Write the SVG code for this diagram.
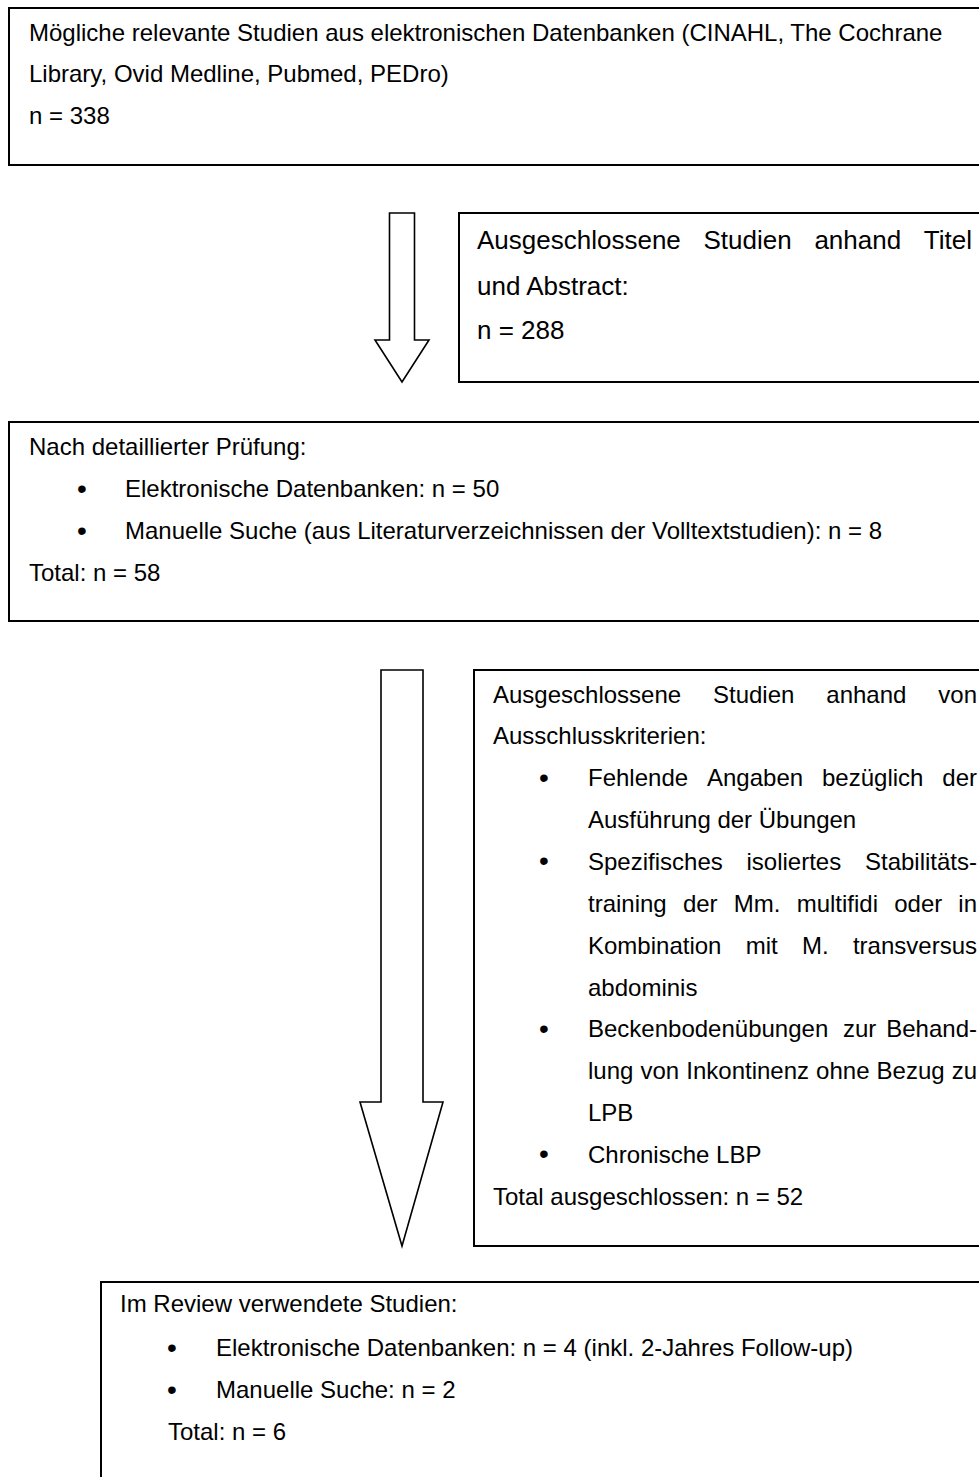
<svg xmlns="http://www.w3.org/2000/svg" width="979" height="1477" viewBox="0 0 979 1477">
<style>
.box{fill:#fff;stroke:#000;stroke-width:2}
.arrow{fill:#fff;stroke:#000;stroke-width:1.6;stroke-linejoin:miter}
text{font-family:"Liberation Sans",Arial,sans-serif;font-size:24px;fill:#000}
.big{font-size:26px}
.end{text-anchor:end}
.bul{text-anchor:middle;font-size:28px}
</style>
<rect x="0" y="0" width="979" height="1477" fill="#fff"/>
<g id="connectors">
<polygon class="arrow" points="389.5,213 414.5,213 414.5,340 429,340 402,382 375,340 389.5,340"/>
<polygon class="arrow" points="381,670 423,670 423,1102 443,1102 402,1246 360,1102 381,1102"/>
</g>
<g id="n1">
<rect class="box" x="9" y="8" width="990" height="157"/>
<text x="29" y="40.5">Mögliche relevante Studien aus elektronischen Datenbanken (CINAHL, The Cochrane</text>
<text x="29" y="82">Library, Ovid Medline, Pubmed, PEDro)</text>
<text x="29" y="123.5">n = 338</text>
</g>
<g id="n2">
<rect class="box" x="459" y="213" width="540" height="169"/>
<text class="big" y="249"><tspan x="477">Ausgeschlossene</tspan><tspan x="703.5">Studien</tspan><tspan x="814.4">anhand</tspan><tspan x="923.8">Titel</tspan></text>
<text class="big" x="477" y="294.5">und Abstract:</text>
<text class="big" x="477" y="339">n = 288</text>
</g>
<g id="n3">
<rect class="box" x="9" y="422" width="990" height="199"/>
<text x="29" y="454.5">Nach detaillierter Prüfung:</text>
<text class="bul" x="82" y="497.5">•</text>
<text x="125" y="497">Elektronische Datenbanken: n = 50</text>
<text class="bul" x="82" y="539.5">•</text>
<text x="125" y="539">Manuelle Suche (aus Literaturverzeichnissen der Volltextstudien): n = 8</text>
<text x="29" y="581">Total: n = 58</text>
</g>
<g id="n4">
<rect class="box" x="474" y="670" width="525" height="576"/>
<text y="702.5"><tspan x="493">Ausgeschlossene</tspan><tspan x="713">Studien</tspan><tspan x="826.3">anhand</tspan></text>
<text class="end" x="977" y="702.5">von</text>
<text x="493" y="744.4">Ausschlusskriterien:</text>
<text class="bul" x="544" y="786.7">•</text>
<text y="786.2"><tspan x="588">Fehlende</tspan><tspan x="707">Angaben</tspan><tspan x="822">bezüglich</tspan></text>
<text class="end" x="977" y="786.2">der</text>
<text x="588" y="828.1">Ausführung der Übungen</text>
<text class="bul" x="544" y="870.4">•</text>
<text y="869.9"><tspan x="588">Spezifisches</tspan><tspan x="746.5">isoliertes</tspan></text>
<text class="end" x="977" y="869.9">Stabilitäts-</text>
<text y="911.8"><tspan x="588">training</tspan><tspan x="682.9">der</tspan><tspan x="733.8">Mm.</tspan><tspan x="796.7">multifidi</tspan><tspan x="894.2">oder</tspan></text>
<text class="end" x="977" y="911.8">in</text>
<text y="953.6"><tspan x="588">Kombination</tspan><tspan x="745.7">mit</tspan><tspan x="802">M.</tspan></text>
<text class="end" x="977" y="953.6">transversus</text>
<text x="588" y="995.5">abdominis</text>
<text class="bul" x="544" y="1037.8">•</text>
<text y="1037.3"><tspan x="588">Beckenbodenübungen</tspan><tspan x="843">zur</tspan></text>
<text class="end" x="977" y="1037.3">Behand-</text>
<text y="1079.2"><tspan x="588">lung</tspan><tspan x="640.5">von</tspan><tspan x="686.3">Inkontinenz</tspan><tspan x="816.1">ohne</tspan><tspan x="876.6">Bezug</tspan></text>
<text class="end" x="977" y="1079.2">zu</text>
<text x="588" y="1121">LPB</text>
<text class="bul" x="544" y="1163.4">•</text>
<text x="588" y="1162.9">Chronische LBP</text>
<text x="493" y="1204.7">Total ausgeschlossen: n = 52</text>
</g>
<g id="n5">
<rect class="box" x="101" y="1282" width="900" height="220"/>
<text x="120" y="1312">Im Review verwendete Studien:</text>
<text class="bul" x="172" y="1356.5">•</text>
<text x="216" y="1356">Elektronische Datenbanken: n = 4 (inkl. 2-Jahres Follow-up)</text>
<text class="bul" x="172" y="1398.5">•</text>
<text x="216" y="1398">Manuelle Suche: n = 2</text>
<text x="168" y="1440">Total: n = 6</text>
</g>
</svg>
